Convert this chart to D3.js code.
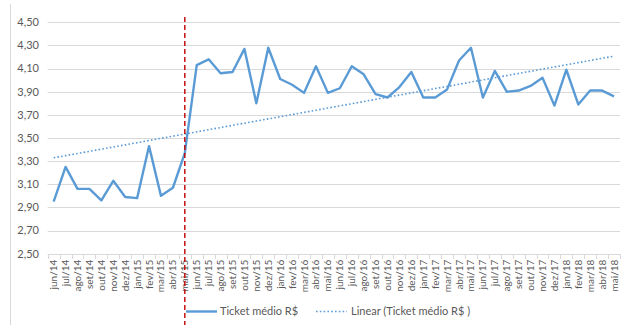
<!DOCTYPE html>
<html>
<head>
<meta charset="utf-8">
<script src="https://cdn.jsdelivr.net/npm/d3@7"></script>
<style>
  html, body { margin: 0; padding: 0; background: #fff; }
  svg { display: block; font-family: Lato, "Open Sans", sans-serif; }
</style>
</head>
<body>
<svg id="chart" width="632" height="325"></svg>
<script>
// Monthly categories (jun/14 .. mai/18)
const months = [
  "jun/14","jul/14","ago/14","set/14","out/14","nov/14","dez/14",
  "jan/15","fev/15","mar/15","abr/15","mai/15","jun/15","jul/15","ago/15","set/15","out/15","nov/15","dez/15",
  "jan/16","fev/16","mar/16","abr/16","mai/16","jun/16","jul/16","ago/16","set/16","out/16","nov/16","dez/16",
  "jan/17","fev/17","mar/17","abr/17","mai/17","jun/17","jul/17","ago/17","set/17","out/17","nov/17","dez/17",
  "jan/18","fev/18","mar/18","abr/18","mai/18"
];

// Ticket médio R$ per month
const ticket = [
  2.95, 3.25, 3.06, 3.06, 2.96, 3.13, 2.99,
  2.98, 3.43, 3.00, 3.07, 3.37, 4.13, 4.18, 4.06, 4.07, 4.27, 3.80, 4.28,
  4.01, 3.96, 3.89, 4.12, 3.89, 3.93, 4.12, 4.05, 3.88, 3.85, 3.94, 4.07,
  3.85, 3.85, 3.92, 4.17, 4.28, 3.85, 4.08, 3.90, 3.91, 3.95, 4.02, 3.78,
  4.09, 3.79, 3.91, 3.91, 3.86
];

// Y axis ticks
const yTicks = [2.5, 2.7, 2.9, 3.1, 3.3, 3.5, 3.7, 3.9, 4.1, 4.3, 4.5];

// Month marked by the vertical reference line
const markerMonth = "mai/15";

const seriesName = "Ticket médio R$";
const trendName = "Linear (Ticket médio R$ )";

const svg = d3.select("#chart");
const plotL = 47.7, plotR = 620, plotT = 22.3, plotB = 253.7;
const blue = "#5B9BD5", textGray = "#595959", gridGray = "#D9D9D9";

const x = d3.scaleBand().domain(months).range([plotL, plotR]).paddingInner(0).paddingOuter(0);
const xc = m => x(m) + x.bandwidth() / 2;
const y = d3.scaleLinear().domain([2.5, 4.5]).range([plotB, plotT]);

// chart frame edge
svg.append("line").attr("x1", 10.5).attr("x2", 10.5).attr("y1", 4).attr("y2", 325)
  .attr("stroke", "#D9D9D9").attr("stroke-width", 1);

// gridlines
svg.append("g").selectAll("line").data(yTicks).join("line")
  .attr("x1", plotL).attr("x2", plotR)
  .attr("y1", d => Math.round(y(d)) + 0.5).attr("y2", d => Math.round(y(d)) + 0.5)
  .attr("stroke", gridGray).attr("stroke-width", 1);

// y labels
const fmt = d => d3.format(".2f")(d).replace(".", ",");
svg.append("g").selectAll("text").data(yTicks).join("text")
  .attr("x", 39).attr("y", d => y(d)).attr("dy", "0.35em")
  .attr("text-anchor", "end").attr("fill", textGray).attr("font-size", 11)
  .text(fmt);

// x axis tick marks at category boundaries
const gx = svg.append("g").attr("transform", `translate(0,${Math.round(plotB) + 0.5})`)
  .call(d3.axisBottom(x).tickSize(0).tickFormat(""));
gx.select(".domain").remove();
gx.selectAll(".tick").remove();
const bounds = d3.range(months.length + 1).map(i => plotL + i * x.bandwidth());
svg.append("g").selectAll("line").data(bounds).join("line")
  .attr("x1", d => Math.round(d) + 0.5).attr("x2", d => Math.round(d) + 0.5)
  .attr("y1", Math.round(plotB)).attr("y2", Math.round(plotB) + 5)
  .attr("stroke", gridGray);

// x labels rotated
svg.append("g").selectAll("text").data(months).join("text")
  .attr("transform", d => `translate(${xc(d) + 3.5},${plotB + 6}) rotate(-90)`)
  .attr("text-anchor", "end").attr("fill", textGray).attr("font-size", 10)
  .text(d => d);

// linear trend from least squares fit
const n = ticket.length;
const xs = d3.range(1, n + 1);
const mx = d3.mean(xs), my = d3.mean(ticket);
const slope = d3.sum(xs, (v, i) => (v - mx) * (ticket[i] - my)) / d3.sum(xs, v => (v - mx) ** 2);
const intercept = my - slope * mx;
const trend = xs.map(v => intercept + slope * v);

const line = d3.line().x((d, i) => xc(months[i])).y(d => y(d));

svg.append("path").datum(trend).attr("d", line)
  .attr("fill", "none").attr("stroke", blue).attr("stroke-width", 1.6)
  .attr("stroke-dasharray", "1.6 2.2");

svg.append("path").datum(ticket).attr("d", line)
  .attr("fill", "none").attr("stroke", blue).attr("stroke-width", 2.4)
  .attr("stroke-linejoin", "round");

// vertical reference line
svg.append("line")
  .attr("x1", xc(markerMonth)).attr("x2", xc(markerMonth))
  .attr("y1", 17).attr("y2", 325)
  .attr("stroke", "#C00000").attr("stroke-width", 1.4)
  .attr("stroke-dasharray", "5 3");

// legend
const lg = svg.append("g").attr("font-size", 11).attr("fill", textGray);
lg.append("line").attr("x1", 186).attr("x2", 217).attr("y1", 311.5).attr("y2", 311.5)
  .attr("stroke", blue).attr("stroke-width", 2.4);
lg.append("text").attr("x", 220).attr("y", 311.5).attr("dy", "0.35em").attr("fill", textGray).text(seriesName);
lg.append("line").attr("x1", 316).attr("x2", 347).attr("y1", 311.5).attr("y2", 311.5)
  .attr("stroke", blue).attr("stroke-width", 1.6).attr("stroke-dasharray", "1.6 2.2");
lg.append("text").attr("x", 351).attr("y", 311.5).attr("dy", "0.35em").attr("fill", textGray).text(trendName);
</script>
</body>
</html>
